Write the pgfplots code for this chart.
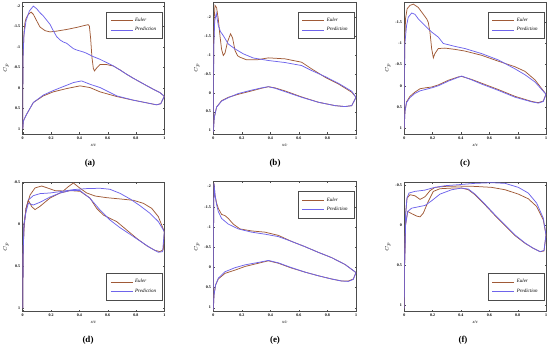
\documentclass[border=0pt]{standalone}
\usepackage{fontspec}
\setmainfont{Liberation Serif}
\usepackage{pgfplots}
\pgfplotsset{compat=1.18}
\definecolor{euler}{RGB}{160,90,55}
\definecolor{pred}{RGB}{110,100,235}
\pgfplotsset{
  cpaxis/.style={
    scale only axis, y dir=reverse, xmin=0, xmax=1,
    xtick={0,0.2,0.4,0.6,0.8,1}, xticklabels={0,0.2,0.4,0.6,0.8,1},
    tick label style={font=\bfseries\fontsize{4}{4}\selectfont},
    /pgf/number format/assume math mode=true,
    axis line style={draw=black!70, line width=0.6pt},
    major tick length=1.5pt,
    tick style={black!70, line width=0.3pt},
    xlabel={x/c}, ylabel={$C_p$},
    xlabel style={font=\itshape\fontsize{4.5}{5}\selectfont, yshift=3pt},
    ylabel style={font=\fontsize{5}{5}\selectfont, yshift=-2pt},
    xticklabel style={yshift=1pt},
    yticklabel style={xshift=1pt},
    legend cell align=left,
    legend style={draw=black!70, line width=0.3pt, font=\itshape\fontsize{5}{5.5}\selectfont,
      inner xsep=4pt, inner ysep=4pt, row sep=0.5pt},
    legend image code/.code={\draw[##1, line width=0.7pt] (0pt,0pt) -- (22pt,0pt);},
    every axis plot/.append style={line width=0.75pt},
  },
  toplegend/.style={legend style={at={(0.985,0.925)}, anchor=north east}},
  botlegend/.style={legend style={at={(0.985,0.09)}, anchor=south east}},
  bigy/.style={ytick={-2,-1.5,-1,-0.5,0,0.5,1}, yticklabels={-2,-1.5,-1,-0.5,0,0.5,1}},
  smally/.style={ytick={-0.5,0,0.5,1}, yticklabels={-0.5,0,0.5,1}},
}
\begin{document}
\begin{tikzpicture}
\path[use as bounding box] (0,0) rectangle (550pt,353pt);
% ---------------- (a)
\begin{axis}[cpaxis, bigy, toplegend, at={(22.7pt,219pt)}, anchor=south west,
  width=141.6pt, height=132pt, ymin=-2.1, ymax=1.12]
\addplot[euler] coordinates {(0,1.0)(0.001,0.0)(0.003,-0.8)(0.009,-1.35)(0.016,-1.6)(0.024,-1.7)(0.04,-1.8)(0.059,-1.854)(0.075,-1.8)(0.099,-1.64)(0.122,-1.49)(0.158,-1.40)(0.193,-1.37)(0.24,-1.39)(0.311,-1.43)(0.381,-1.48)(0.452,-1.54)(0.464,-1.546)(0.471,-1.51)(0.48,-1.2)(0.489,-0.75)(0.499,-0.48)(0.507,-0.418)(0.52,-0.48)(0.546,-0.575)(0.593,-0.573)(0.64,-0.54)(0.687,-0.443)(0.734,-0.337)(0.781,-0.24)(0.828,-0.15)(0.875,-0.06)(0.922,0.028)(0.969,0.109)(1,0.2)};
\addlegendentry{Euler}
\addplot[pred] coordinates {(0,1.0)(0.001,0.0)(0.003,-0.8)(0.009,-1.3)(0.024,-1.65)(0.047,-1.88)(0.075,-2.0)(0.099,-1.935)(0.122,-1.838)(0.146,-1.757)(0.169,-1.659)(0.193,-1.554)(0.216,-1.4)(0.24,-1.254)(0.264,-1.173)(0.287,-1.124)(0.311,-1.092)(0.334,-1.027)(0.358,-0.962)(0.381,-0.929)(0.405,-0.905)(0.428,-0.881)(0.452,-0.848)(0.475,-0.808)(0.499,-0.767)(0.546,-0.702)(0.593,-0.621)(0.64,-0.54)(0.687,-0.443)(0.734,-0.337)(0.781,-0.24)(0.828,-0.15)(0.875,-0.06)(0.922,0.028)(0.969,0.109)(1,0.2)};
\addlegendentry{Prediction}
\addplot[euler, forget plot] coordinates {(0,1.0)(0.005,0.8)(0.028,0.636)(0.075,0.352)(0.146,0.19)(0.216,0.092)(0.311,0.011)(0.405,-0.054)(0.475,-0.013)(0.546,0.092)(0.664,0.206)(0.781,0.295)(0.899,0.376)(0.946,0.409)(0.975,0.38)(1,0.2)};
\addplot[pred, forget plot] coordinates {(0,1.0)(0.005,0.8)(0.028,0.636)(0.075,0.352)(0.146,0.17)(0.216,0.06)(0.311,-0.07)(0.358,-0.135)(0.416,-0.175)(0.475,-0.094)(0.546,-0.013)(0.664,0.19)(0.781,0.295)(0.899,0.376)(0.946,0.409)(0.975,0.38)(1,0.2)};
\end{axis}
% ---------------- (b)
\begin{axis}[cpaxis, bigy, toplegend, at={(213.3pt,219pt)}, anchor=south west,
  width=142.7pt, height=132pt, ymin=-2.4, ymax=1.09]
\addplot[euler] coordinates {(0,1.04)(0.001,0.0)(0.003,-1.2)(0.007,-2.0)(0.012,-2.31)(0.023,-2.25)(0.035,-1.95)(0.047,-1.5)(0.058,-1.15)(0.07,-0.985)(0.082,-1.05)(0.1,-1.35)(0.121,-1.56)(0.135,-1.45)(0.152,-1.12)(0.17,-0.98)(0.187,-0.94)(0.234,-0.87)(0.304,-0.87)(0.386,-0.923)(0.502,-0.897)(0.619,-0.808)(0.689,-0.632)(0.783,-0.411)(0.876,-0.235)(0.97,-0.014)(1,0.12)};
\addlegendentry{Euler}
\addplot[pred] coordinates {(0,1.04)(0.001,0.0)(0.004,-1.3)(0.01,-1.9)(0.021,-2.1)(0.035,-1.78)(0.05,-1.62)(0.07,-1.51)(0.105,-1.29)(0.152,-1.16)(0.21,-1.03)(0.28,-0.92)(0.386,-0.853)(0.502,-0.8)(0.619,-0.72)(0.689,-0.588)(0.783,-0.429)(0.876,-0.252)(0.97,-0.041)(1,0.12)};
\addlegendentry{Prediction}
\addplot[euler, forget plot] coordinates {(0,1.04)(0.007,0.65)(0.023,0.38)(0.058,0.21)(0.105,0.12)(0.175,0.04)(0.269,-0.05)(0.339,-0.12)(0.386,-0.16)(0.432,-0.13)(0.502,-0.05)(0.619,0.11)(0.736,0.25)(0.853,0.34)(0.923,0.365)(0.97,0.34)(1,0.12)};
\addplot[pred, forget plot] coordinates {(0,1.04)(0.007,0.65)(0.023,0.38)(0.058,0.22)(0.105,0.13)(0.175,0.02)(0.269,-0.07)(0.339,-0.13)(0.386,-0.16)(0.432,-0.12)(0.502,-0.03)(0.619,0.12)(0.736,0.25)(0.853,0.34)(0.923,0.365)(0.97,0.34)(1,0.12)};
\end{axis}
% ---------------- (c)
\begin{axis}[cpaxis, toplegend, at={(404.3pt,219pt)}, anchor=south west,
  width=141.7pt, height=132pt, ymin=-1.98, ymax=1.14,
  ytick={-1.5,-1,-0.5,0,0.5,1}, yticklabels={-1.5,-1,-0.5,0,0.5,1}]
\addplot[euler] coordinates {(0,1.02)(0.001,0.0)(0.003,-1.0)(0.009,-1.6)(0.02,-1.82)(0.04,-1.9)(0.064,-1.93)(0.099,-1.85)(0.134,-1.69)(0.158,-1.58)(0.169,-1.5)(0.181,-1.27)(0.193,-0.88)(0.205,-0.66)(0.216,-0.76)(0.24,-0.88)(0.287,-0.89)(0.358,-0.86)(0.428,-0.82)(0.546,-0.72)(0.664,-0.58)(0.781,-0.45)(0.852,-0.34)(0.922,-0.14)(1,0.2)};
\addlegendentry{Euler}
\addplot[pred] coordinates {(0,1.02)(0.001,0.0)(0.004,-1.0)(0.016,-1.42)(0.028,-1.62)(0.052,-1.72)(0.075,-1.69)(0.099,-1.58)(0.146,-1.42)(0.193,-1.27)(0.24,-1.15)(0.275,-1.0)(0.311,-0.97)(0.358,-0.93)(0.428,-0.88)(0.546,-0.76)(0.664,-0.61)(0.781,-0.4)(0.852,-0.26)(0.922,-0.09)(1,0.2)};
\addlegendentry{Prediction}
\addplot[euler, forget plot] coordinates {(0,1.02)(0.002,0.8)(0.005,0.6)(0.016,0.38)(0.04,0.25)(0.075,0.15)(0.111,0.07)(0.146,0.05)(0.193,0.03)(0.24,-0.02)(0.311,-0.13)(0.381,-0.21)(0.405,-0.22)(0.475,-0.15)(0.546,-0.06)(0.664,0.09)(0.781,0.25)(0.899,0.37)(0.946,0.4)(0.981,0.36)(1,0.2)};
\addplot[pred, forget plot] coordinates {(0,1.02)(0.002,0.8)(0.005,0.6)(0.016,0.4)(0.04,0.28)(0.075,0.18)(0.111,0.12)(0.146,0.09)(0.193,0.05)(0.24,0.0)(0.311,-0.11)(0.381,-0.2)(0.405,-0.23)(0.475,-0.14)(0.546,-0.04)(0.664,0.11)(0.781,0.27)(0.899,0.38)(0.946,0.41)(0.981,0.37)(1,0.2)};
\end{axis}
% ---------------- (d)
\begin{axis}[cpaxis, smally, botlegend, at={(22.7pt,41.3pt)}, anchor=south west,
  width=141.6pt, height=129.4pt, ymin=-0.5, ymax=1.04]
\addplot[euler] coordinates {(0,1.0)(0.002,0.405)(0.009,0.05)(0.024,-0.19)(0.052,-0.349)(0.087,-0.433)(0.134,-0.456)(0.181,-0.429)(0.228,-0.401)(0.287,-0.397)(0.322,-0.448)(0.358,-0.492)(0.405,-0.429)(0.452,-0.373)(0.511,-0.337)(0.593,-0.317)(0.687,-0.302)(0.781,-0.286)(0.852,-0.25)(0.911,-0.19)(0.958,-0.091)(1,0.087)};
\addlegendentry{Euler}
\addplot[pred] coordinates {(0,1.0)(0.002,0.405)(0.009,0.0)(0.024,-0.19)(0.04,-0.29)(0.075,-0.341)(0.122,-0.365)(0.193,-0.373)(0.264,-0.389)(0.358,-0.413)(0.452,-0.425)(0.546,-0.429)(0.616,-0.417)(0.687,-0.369)(0.758,-0.302)(0.828,-0.222)(0.899,-0.131)(0.958,-0.032)(1,0.087)};
\addlegendentry{Prediction}
\addplot[euler, forget plot] coordinates {(0,1.0)(0.002,0.405)(0.009,0.0)(0.024,-0.19)(0.04,-0.286)(0.064,-0.21)(0.087,-0.175)(0.122,-0.214)(0.193,-0.313)(0.264,-0.373)(0.334,-0.401)(0.405,-0.393)(0.475,-0.313)(0.522,-0.19)(0.569,-0.111)(0.616,-0.071)(0.664,-0.032)(0.734,0.067)(0.805,0.167)(0.875,0.254)(0.934,0.31)(0.969,0.325)(0.993,0.302)(1,0.087)};
\addplot[pred, forget plot] coordinates {(0,1.0)(0.002,0.405)(0.009,0.0)(0.024,-0.151)(0.04,-0.25)(0.075,-0.23)(0.122,-0.262)(0.193,-0.325)(0.264,-0.373)(0.334,-0.401)(0.405,-0.401)(0.475,-0.31)(0.546,-0.171)(0.616,-0.052)(0.687,0.04)(0.758,0.119)(0.828,0.198)(0.899,0.278)(0.958,0.333)(0.988,0.325)(1,0.087)};
\end{axis}
% ---------------- (e)
\begin{axis}[cpaxis, bigy, toplegend, at={(213.3pt,41.3pt)}, anchor=south west,
  width=142.7pt, height=130pt, ymin=-2.12, ymax=1.1]
\addplot[euler] coordinates {(0,1.06)(0.001,0.0)(0.002,-1.0)(0.005,-2.08)(0.012,-1.79)(0.023,-1.59)(0.035,-1.46)(0.058,-1.31)(0.082,-1.28)(0.105,-1.21)(0.14,-1.07)(0.187,-0.95)(0.269,-0.9)(0.362,-0.87)(0.456,-0.79)(0.549,-0.64)(0.643,-0.51)(0.736,-0.37)(0.829,-0.24)(0.923,-0.07)(1,0.13)};
\addlegendentry{Euler}
\addplot[pred] coordinates {(0,1.06)(0.001,0.0)(0.002,-1.0)(0.005,-2.08)(0.012,-1.79)(0.023,-1.55)(0.035,-1.38)(0.058,-1.21)(0.105,-1.07)(0.175,-0.95)(0.269,-0.87)(0.362,-0.82)(0.456,-0.76)(0.549,-0.64)(0.643,-0.51)(0.736,-0.37)(0.829,-0.24)(0.923,-0.07)(1,0.13)};
\addlegendentry{Prediction}
\addplot[euler, forget plot] coordinates {(0,1.06)(0.005,0.69)(0.016,0.44)(0.035,0.29)(0.082,0.15)(0.152,0.07)(0.222,-0.02)(0.315,-0.1)(0.386,-0.16)(0.456,-0.1)(0.549,0.02)(0.643,0.12)(0.736,0.21)(0.829,0.29)(0.9,0.34)(0.946,0.34)(0.981,0.29)(1,0.13)};
\addplot[pred, forget plot] coordinates {(0,1.06)(0.005,0.69)(0.016,0.44)(0.035,0.27)(0.082,0.11)(0.152,0.01)(0.222,-0.06)(0.315,-0.12)(0.386,-0.17)(0.456,-0.11)(0.549,0.01)(0.643,0.12)(0.736,0.21)(0.829,0.29)(0.9,0.34)(0.946,0.35)(0.981,0.3)(1,0.13)};
\end{axis}
% ---------------- (f)
\begin{axis}[cpaxis, smally, botlegend, at={(404.3pt,41.3pt)}, anchor=south west,
  width=141.7pt, height=129.4pt, ymin=-0.53, ymax=1.08]
\addplot[euler] coordinates {(0,1.04)(0.002,0.458)(0.009,-0.125)(0.019,-0.333)(0.04,-0.375)(0.075,-0.3625)(0.111,-0.317)(0.146,-0.35)(0.181,-0.425)(0.216,-0.467)(0.287,-0.479)(0.381,-0.483)(0.499,-0.479)(0.616,-0.467)(0.711,-0.4375)(0.805,-0.383)(0.875,-0.325)(0.934,-0.229)(0.981,-0.0625)(1,0.125)};
\addlegendentry{Euler}
\addplot[pred] coordinates {(0,1.04)(0.002,0.458)(0.009,-0.125)(0.019,-0.333)(0.033,-0.396)(0.075,-0.417)(0.146,-0.433)(0.205,-0.4625)(0.287,-0.4875)(0.381,-0.5)(0.499,-0.517)(0.616,-0.525)(0.711,-0.517)(0.805,-0.467)(0.875,-0.396)(0.934,-0.271)(0.981,-0.083)(1,0.125)};
\addlegendentry{Prediction}
\addplot[euler, forget plot] coordinates {(0,1.04)(0.002,0.5)(0.009,0.0)(0.024,-0.167)(0.052,-0.14)(0.087,-0.11)(0.111,-0.1)(0.134,-0.146)(0.169,-0.292)(0.205,-0.417)(0.252,-0.45)(0.334,-0.458)(0.405,-0.458)(0.452,-0.4375)(0.499,-0.375)(0.569,-0.25)(0.64,-0.117)(0.711,0.008)(0.781,0.133)(0.852,0.229)(0.911,0.292)(0.958,0.333)(0.986,0.325)(1,0.125)};
\addplot[pred, forget plot] coordinates {(0,1.04)(0.002,0.5)(0.009,0.0)(0.024,-0.167)(0.052,-0.208)(0.099,-0.225)(0.146,-0.242)(0.193,-0.3)(0.252,-0.383)(0.334,-0.4375)(0.405,-0.458)(0.452,-0.446)(0.499,-0.383)(0.569,-0.258)(0.64,-0.125)(0.711,0.0)(0.781,0.125)(0.852,0.225)(0.911,0.292)(0.958,0.333)(0.986,0.317)(1,0.125)};
\end{axis}
% panel labels
\node[font=\bfseries\fontsize{9}{9}\selectfont] at (90pt,190pt) {(a)};
\node[font=\bfseries\fontsize{9}{9}\selectfont] at (275pt,190pt) {(b)};
\node[font=\bfseries\fontsize{9}{9}\selectfont] at (465pt,190pt) {(c)};
\node[font=\bfseries\fontsize{9}{9}\selectfont] at (88pt,13pt) {(d)};
\node[font=\bfseries\fontsize{9}{9}\selectfont] at (275pt,13pt) {(e)};
\node[font=\bfseries\fontsize{9}{9}\selectfont] at (463pt,13pt) {(f)};
\end{tikzpicture}
\end{document}
